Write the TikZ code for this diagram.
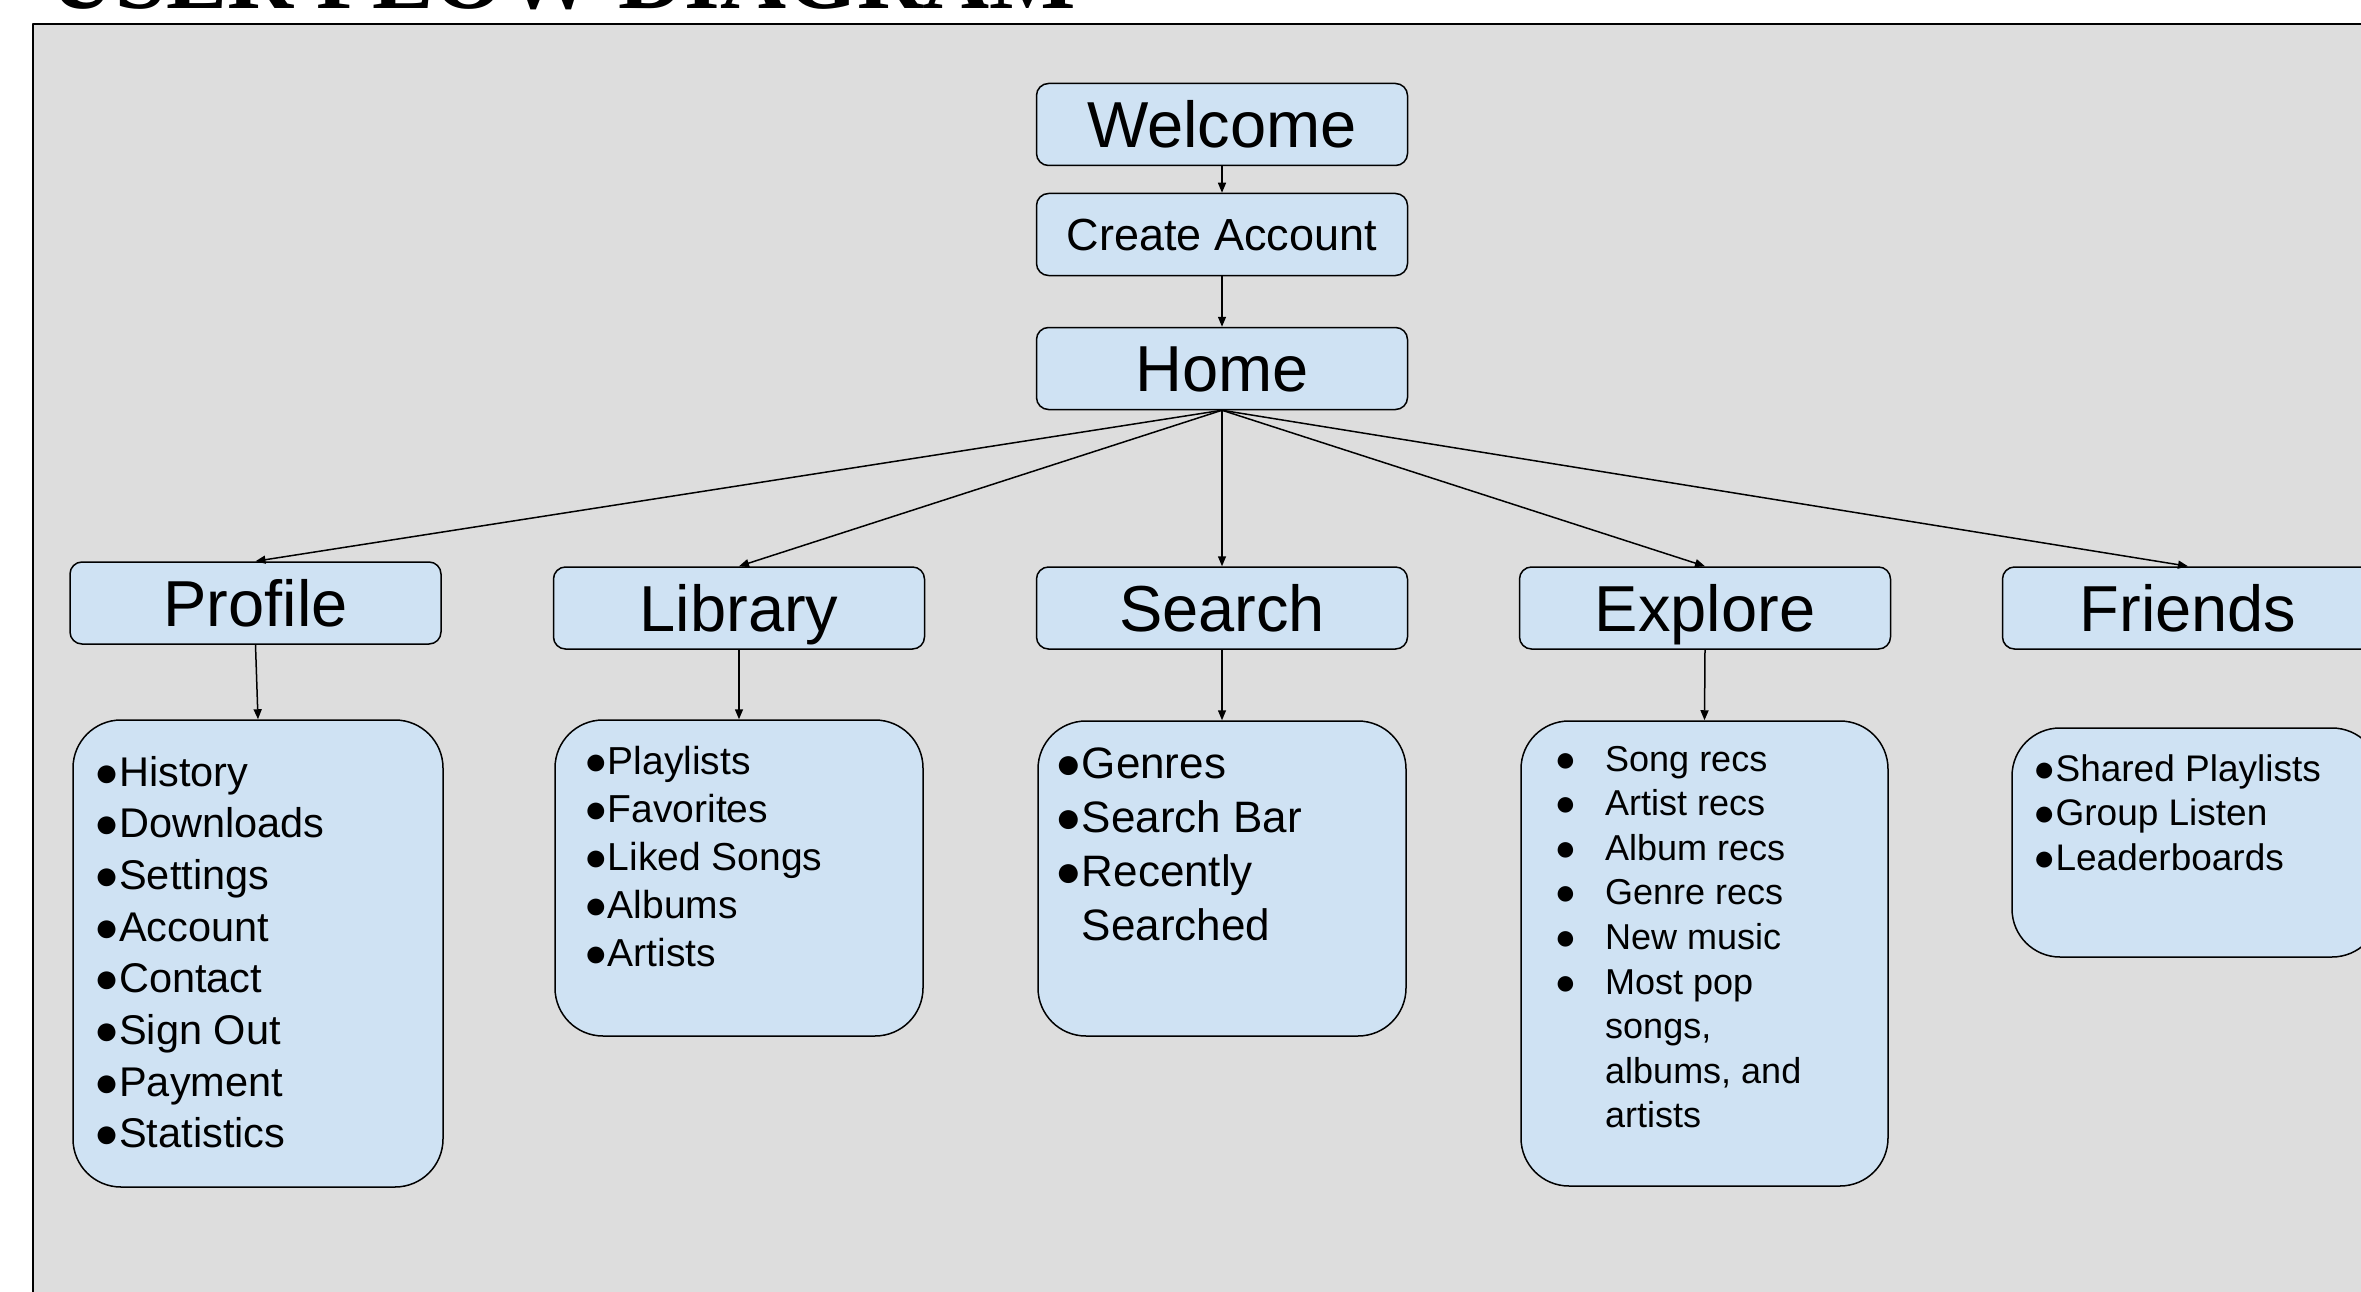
\documentclass[tikz,border=0pt]{standalone}
\usepackage{fontspec}
\setmainfont{Liberation Sans}
\newfontfamily\headfont{Liberation Serif}
\usetikzlibrary{arrows.meta}

\definecolor{panelgrey}{RGB}{221,221,221}
\definecolor{boxblue}{RGB}{207,226,243}

% font size / line pitch shorthand (sizes are in pt = px)
\newcommand\fs[2]{\fontsize{#1pt}{#2pt}\selectfont}
\newcommand\bul{●}

\tikzset{
  stepbox/.style={draw, line width=1.5pt, fill=boxblue, rounded corners=12pt,
    minimum width=371pt, minimum height=82pt, inner sep=0pt},
  bigtxt/.style={font=\fs{65}{78}, text height=46.5pt, text depth=0pt},
  midtxt/.style={font=\fs{45}{54}, text height=32.2pt, text depth=0pt},
  listbox/.style={draw, line width=1.5pt, fill=boxblue, rounded corners=48pt,
    inner sep=0pt},
  listtxt/.style={anchor=base west, inner sep=0pt},
  arr/.style={-{Triangle[length=10pt,width=8pt]}, line width=1.5pt},
}

\begin{document}
\begin{tikzpicture}[x=1pt, y=-1pt, line join=round]
\useasboundingbox (0,0) rectangle (2361,1292);
\clip (0,0) rectangle (2361,1292);

% page heading, partly above the top edge
\node[anchor=base west, inner sep=0pt, font=\headfont\bfseries\fs{91.5}{110}]
  (title) at (49,9) {USER FLOW DIAGRAM};

% grey panel
\draw[fill=panelgrey, line width=2pt] (33,24) rectangle (2400,1330);

% top chain
\node[stepbox, bigtxt] (welcome) at (1222,124.5) {Welcome};
\node[stepbox, midtxt] (create)  at (1222,234.5) {Create Account};
\node[stepbox, bigtxt] (home)    at (1222,368.5) {Home};

% main sections
\node[stepbox, bigtxt] (profile) at (255.5,603) {Profile};
\node[stepbox, bigtxt] (library) at (739,608)   {Library};
\node[stepbox, bigtxt] (search)  at (1222,608)  {Search};
\node[stepbox, bigtxt] (explore) at (1705,608)  {Explore};
\node[stepbox, bigtxt] (friends) at (2188,608)  {Friends};

% section contents
\node[listbox, minimum width=370pt, minimum height=467pt] (plist) at (258,953.5) {};
\node[listbox, minimum width=368pt, minimum height=316pt] (llist) at (739,878) {};
\node[listbox, minimum width=368pt, minimum height=315pt] (slist) at (1222,878.5) {};
\node[listbox, minimum width=367pt, minimum height=465pt] (elist) at (1704.5,953.5) {};
\node[listbox, minimum width=368pt, minimum height=229pt] (flist) at (2196,842.5) {};

\node[listtxt, font=\fs{41.5}{51.7}] (ptext) at (94,786)
  {\begin{tabular}[t]{@{}l@{}}
   \bul History\\ \bul Downloads\\ \bul Settings\\ \bul Account\\
   \bul Contact\\ \bul Sign Out\\ \bul Payment\\ \bul Statistics
   \end{tabular}};

\node[listtxt, font=\fs{39}{48}] (ltext) at (584,774)
  {\begin{tabular}[t]{@{}l@{}}
   \bul Playlists\\ \bul Favorites\\ \bul Liked Songs\\ \bul Albums\\ \bul Artists
   \end{tabular}};

\node[listtxt, font=\fs{44}{54}] (stext) at (1055,778)
  {\begin{tabular}[t]{@{}l@{}l@{}}
   \bul&Genres\\ \bul&Search Bar\\ \bul&Recently\\ &Searched
   \end{tabular}};

\node[listtxt, font=\fs{36}{44.6}] (etext) at (1554.5,771)
  {\begin{tabular}[t]{@{}l@{}l@{}}
   \makebox[50.5pt][l]{\bul}&Song recs\\
   \bul&Artist recs\\ \bul&Album recs\\ \bul&Genre recs\\
   \bul&New music\\ \bul&Most pop\\ &songs,\\ &albums, and\\ &artists
   \end{tabular}};

\node[listtxt, font=\fs{37}{44.5}] (ftext) at (2033,781)
  {\begin{tabular}[t]{@{}l@{}}
   \bul Shared Playlists\\ \bul Group Listen\\ \bul Leaderboards
   \end{tabular}};

% connectors
\draw[arr] (welcome.south) -- (create.north);
\draw[arr] (create.south) -- (home.north);
\foreach \t in {profile,library,search,explore,friends}
  \draw[arr] (home.south) -- (\t.north);
\draw[arr] (profile.south) -- (plist.north);
\draw[arr] (library.south) -- (llist.north);
\draw[arr] (search.south)  -- (slist.north);
\draw[arr] (explore.south) -- (elist.north);
\end{tikzpicture}
\end{document}
